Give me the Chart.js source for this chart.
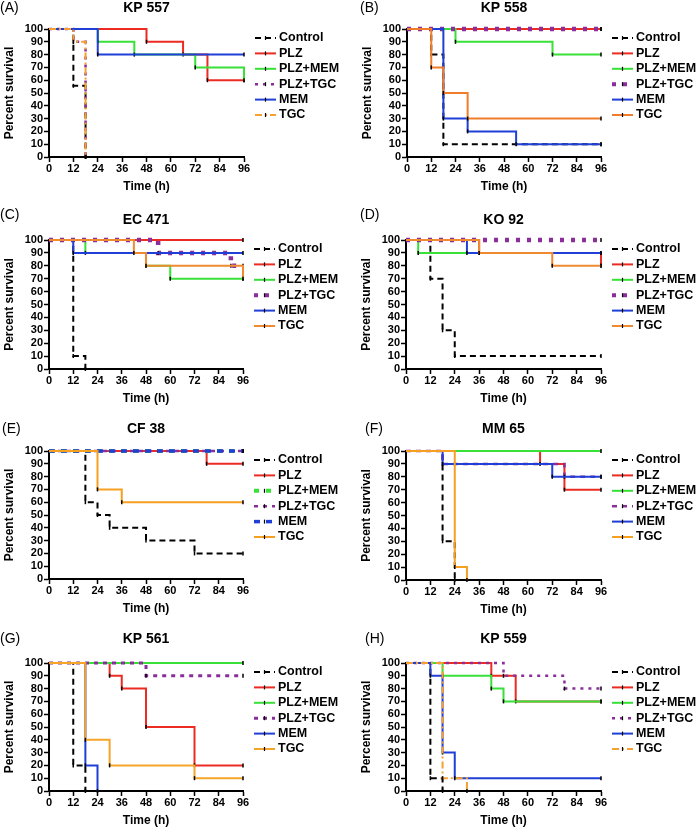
<!DOCTYPE html>
<html>
<head>
<meta charset="utf-8">
<script src="https://cdn.jsdelivr.net/npm/chart.js@4.4.0/dist/chart.umd.min.js"></script>
<style>
html,body{margin:0;padding:0;background:#fff;}
#wrap{position:relative;width:696px;height:828px;overflow:hidden;}
.panel{position:absolute;width:348px;height:207px;}
canvas{display:block;}
</style>
</head>
<body>
<div id="wrap"></div>
<script>
// ---------- labels ----------
const seriesNames = ['Control', 'PLZ', 'PLZ+MEM', 'PLZ+TGC', 'MEM', 'TGC'];
const panelLabels = ['(A)', '(B)', '(C)', '(D)', '(E)', '(F)', '(G)', '(H)'];
const panelTitles = ['KP 557', 'KP 558', 'EC 471', 'KO 92', 'CF 38', 'MM 65', 'KP 561', 'KP 559'];
const timeTicks = [0, 12, 24, 36, 48, 60, 72, 84, 96];
const survivalTicks = [0, 10, 20, 30, 40, 50, 60, 70, 80, 90, 100];

// ---------- data: [time (h), percent survival] ----------
// (A) KP 557
const a_control = [[0,100],[12,55.6],[18,0]];
const a_plz     = [[0,100],[48,90],[66,80],[78,60],[96,60]];
const a_plzmem  = [[0,100],[24,90],[42,80],[72,70],[96,60]];
const a_plztgc  = [[0,100],[12,90],[18,0]];
const a_mem     = [[0,100],[24,80],[96,80]];
const a_tgc     = [[0,100],[12,90],[18,0]];
// (B) KP 558
const b_control = [[0,100],[12,80],[18,10],[96,10]];
const b_plz     = [[0,100],[96,100]];
const b_plzmem  = [[0,100],[24,90],[72,80],[96,80]];
const b_plztgc  = [[0,100],[96,100]];
const b_mem     = [[0,100],[18,30],[30,20],[54,10],[96,10]];
const b_tgc     = [[0,100],[12,70],[18,50],[30,30],[96,30]];
// (C) EC 471
const c_control = [[0,100],[12,10],[18,0]];
const c_plz     = [[0,100],[96,100]];
const c_plzmem  = [[0,100],[18,90],[48,80],[60,70],[96,70]];
const c_plztgc  = [[0,100],[54,90],[90,80],[96,80]];
const c_mem     = [[0,100],[12,90],[96,90]];
const c_tgc     = [[0,100],[42,90],[48,80],[96,70]];
// (D) KO 92
const d_control = [[0,100],[12,70],[18,30],[24,10],[96,10]];
const d_plz     = [[0,100],[36,90],[96,80]];
const d_plzmem  = [[0,100],[6,90],[96,90]];
const d_plztgc  = [[0,100],[96,100]];
const d_mem     = [[0,100],[30,90],[96,90]];
const d_tgc     = [[0,100],[36,90],[72,80],[96,80]];
// (E) CF 38
const e_control = [[0,100],[18,60],[24,50],[30,40],[48,30],[72,20],[96,20]];
const e_plz     = [[0,100],[78,90],[96,90]];
const e_plzmem  = [[0,100],[96,100]];
const e_plztgc  = [[0,100],[96,100]];
const e_mem     = [[0,100],[96,100]];
const e_tgc     = [[0,100],[24,70],[36,60],[96,60]];
// (F) MM 65
const f_control = [[0,100],[18,30],[24,0]];
const f_plz     = [[0,100],[66,90],[78,70],[96,70]];
const f_plzmem  = [[0,100],[96,100]];
const f_plztgc  = [[0,100],[18,90],[78,80],[96,80]];
const f_mem     = [[0,100],[18,90],[72,80],[96,80]];
const f_tgc     = [[0,100],[24,10],[30,0]];
// (G) KP 561
const g_control = [[0,100],[12,20],[18,0]];
const g_plz     = [[0,100],[30,90],[36,80],[48,50],[72,20],[96,20]];
const g_plzmem  = [[0,100],[96,100]];
const g_plztgc  = [[0,100],[48,90],[96,90]];
const g_mem     = [[0,100],[18,20],[24,0]];
const g_tgc     = [[0,100],[18,40],[30,20],[72,10],[96,10]];
// (H) KP 559
const h_control = [[0,100],[12,10],[18,0]];
const h_plz     = [[0,100],[42,90],[54,70],[96,70]];
const h_plzmem  = [[0,100],[18,90],[42,80],[48,70],[96,70]];
const h_plztgc  = [[0,100],[48,90],[78,80],[96,80]];
const h_mem     = [[0,100],[12,90],[18,30],[24,10],[96,10]];
const h_tgc     = [[0,100],[18,10],[30,0]];

const panelSeries = [
  [a_control, a_plz, a_plzmem, a_plztgc, a_mem, a_tgc],
  [b_control, b_plz, b_plzmem, b_plztgc, b_mem, b_tgc],
  [c_control, c_plz, c_plzmem, c_plztgc, c_mem, c_tgc],
  [d_control, d_plz, d_plzmem, d_plztgc, d_mem, d_tgc],
  [e_control, e_plz, e_plzmem, e_plztgc, e_mem, e_tgc],
  [f_control, f_plz, f_plzmem, f_plztgc, f_mem, f_tgc],
  [g_control, g_plz, g_plzmem, g_plztgc, g_mem, g_tgc],
  [h_control, h_plz, h_plzmem, h_plztgc, h_mem, h_tgc]
];

// ---------- styles ----------
const FONT = '"Liberation Sans", Arial, Helvetica, sans-serif';
Chart.defaults.font.family = FONT;
Chart.defaults.color = '#000';

const RED = '#ec2b22', GREEN = '#38e038', PURPLE = '#8b2e9c', BLUE = '#1f3fd6';
function st(c, d, w) { return { c: c, d: d, w: w }; }
const CTRL = st('#000000', [6, 4], 2);
const panelStyles = [
  [CTRL, st(RED,[],2), st(GREEN,[],2), st(PURPLE,[3,5],2.5), st(BLUE,[],2), st('#f5a030',[7,3,2,3],2)],
  [CTRL, st(RED,[],2), st(GREEN,[],2), st(PURPLE,[4,7],4.5), st(BLUE,[],2), st('#f07d2a',[],2)],
  [CTRL, st(RED,[],2), st(GREEN,[],2), st(PURPLE,[4,7],4.5), st(BLUE,[],2), st('#f08a30',[],2)],
  [CTRL, st(RED,[],2), st(GREEN,[],2), st(PURPLE,[4,7],4.5), st(BLUE,[],2), st('#f08a30',[],2)],
  [CTRL, st(RED,[],2), st(GREEN,[5,7],4), st(PURPLE,[4,5],2.5), st(BLUE,[6,6],3.5), st('#f5a020',[],2)],
  [CTRL, st(RED,[],2), st(GREEN,[],2), st(PURPLE,[5,5],2.5), st(BLUE,[],2), st('#f5a020',[],2)],
  [CTRL, st(RED,[],2), st(GREEN,[],2), st(PURPLE,[4,5],3), st(BLUE,[],2), st('#f5a52a',[],2)],
  [CTRL, st(RED,[],2), st(GREEN,[],2), st(PURPLE,[3,5],2.5), st(BLUE,[],2), st('#f5a030',[7,3,2,3],2)]
];

// plot rectangles inside each 348x207 panel: [left, top, right, bottom]
const panelBoxes = [
  [49,29,244,157], [59,29,253,157],
  [49,33,243,162], [58,33,253,162],
  [49,37,243,165], [58,37,253,166],
  [49,42,243,170], [58,42,253,170]
];
// [labelX, labelY, titleY]
const panelText = [
  [0,8,8], [12,8,8],
  [0,8,13], [12,8,13],
  [2,15,15], [17,15,15],
  [0,18,18], [17,18,18]
];

const panelDecor = {
  id: 'panelDecor',
  afterDraw(chart, args, opts) {
    const ctx = chart.ctx, a = chart.chartArea;
    ctx.save();
    ctx.fillStyle = '#000';
    ctx.textBaseline = 'middle';
    ctx.textAlign = 'left';
    ctx.font = '14px ' + FONT;
    ctx.fillText(opts.label, opts.labelX, opts.labelY);
    ctx.textAlign = 'center';
    ctx.font = 'bold 14px ' + FONT;
    ctx.fillText(opts.title, (a.left + a.right) / 2, opts.titleY);
    // legend
    chart.data.datasets.forEach((ds, i) => {
      const y = a.top + 9 + i * 15.4;
      const x0 = a.right + 11, x1 = x0 + 21;
      ctx.beginPath();
      ctx.setLineDash(ds.borderDash || []);
      ctx.lineWidth = Math.min(ds.borderWidth, 4);
      ctx.strokeStyle = ds.borderColor;
      ctx.moveTo(x0, y); ctx.lineTo(x1, y); ctx.stroke();
      ctx.setLineDash([]);
      ctx.lineWidth = 1.2;
      ctx.strokeStyle = '#000';
      ctx.beginPath();
      ctx.moveTo((x0 + x1) / 2, y - 2); ctx.lineTo((x0 + x1) / 2, y + 2); ctx.stroke();
      ctx.fillStyle = '#000';
      ctx.textAlign = 'left';
      ctx.font = 'bold 12.5px ' + FONT;
      ctx.fillText(ds.label, a.right + 35, y);
    });
    ctx.restore();
  }
};

const wrap = document.getElementById('wrap');
const W = 348, H = 207;

function makeChart(idx) {
  const [L, T, R, B] = panelBoxes[idx];
  const div = document.createElement('div');
  div.className = 'panel';
  div.style.left = (idx % 2) * W + 'px';
  div.style.top = Math.floor(idx / 2) * H + 'px';
  const cv = document.createElement('canvas');
  cv.width = W; cv.height = H;
  cv.style.width = W + 'px'; cv.style.height = H + 'px';
  div.appendChild(cv);
  wrap.appendChild(div);

  const styles = panelStyles[idx];
  const datasets = panelSeries[idx].map((pts, i) => ({
    label: seriesNames[i],
    data: pts.map(p => ({ x: p[0], y: p[1] })),
    borderColor: styles[i].c,
    backgroundColor: styles[i].c,
    borderDash: styles[i].d,
    borderWidth: styles[i].w,
    stepped: 'before',
    fill: false,
    pointStyle: 'line',
    pointRotation: 90,
    pointRadius: pts.map(p => p[0] > 0 ? 2 : 0),
    pointHoverRadius: 0,
    pointBorderColor: '#000',
    pointBackgroundColor: '#000',
    pointBorderWidth: 1.5,
    order: 6 - i,
    clip: 6
  }));

  const t = panelText[idx];
  new Chart(cv, {
    type: 'line',
    data: { datasets: datasets },
    options: {
      responsive: false,
      animation: false,
      devicePixelRatio: 1,
      events: [],
      layout: { padding: { left: 0, top: T, right: W - R, bottom: 0 } },
      plugins: {
        legend: { display: false },
        tooltip: { enabled: false },
        title: { display: false },
        panelDecor: { label: panelLabels[idx], title: panelTitles[idx], labelX: t[0], labelY: t[1], titleY: t[2] }
      },
      scales: {
        x: {
          type: 'linear', min: 0, max: 96,
          afterFit: s => { s.height = H - B; },
          afterBuildTicks: s => { s.ticks = timeTicks.map(v => ({ value: v })); },
          ticks: { font: { size: 11, weight: 'bold' }, color: '#000', padding: 0, maxRotation: 0, autoSkip: false },
          grid: { display: true, drawOnChartArea: false, drawTicks: true, tickLength: 5, tickColor: '#000', tickWidth: 1.5 },
          border: { display: true, color: '#000', width: 2 },
          title: { display: true, text: 'Time (h)', color: '#000', font: { size: 12, weight: 'bold' },
                   padding: { top: 0, bottom: Math.max(0, H - B - 30 - 7.2) } }
        },
        y: {
          type: 'linear', min: 0, max: 100,
          afterFit: s => { s.width = L; },
          afterBuildTicks: s => { s.ticks = survivalTicks.map(v => ({ value: v })); },
          ticks: { font: { size: 11, weight: 'bold' }, color: '#000', padding: 1, autoSkip: false },
          grid: { display: true, drawOnChartArea: false, drawTicks: true, tickLength: 5, tickColor: '#000', tickWidth: 1.5 },
          border: { display: true, color: '#000', width: 2 },
          title: { display: true, text: 'Percent survival', color: '#000', font: { size: 12, weight: 'bold' },
                   padding: { top: Math.max(0, L - 39 - 7.2), bottom: 0 } }
        }
      }
    },
    plugins: [panelDecor]
  });
}

for (let i = 0; i < 8; i++) makeChart(i);
</script>
</body>
</html>
